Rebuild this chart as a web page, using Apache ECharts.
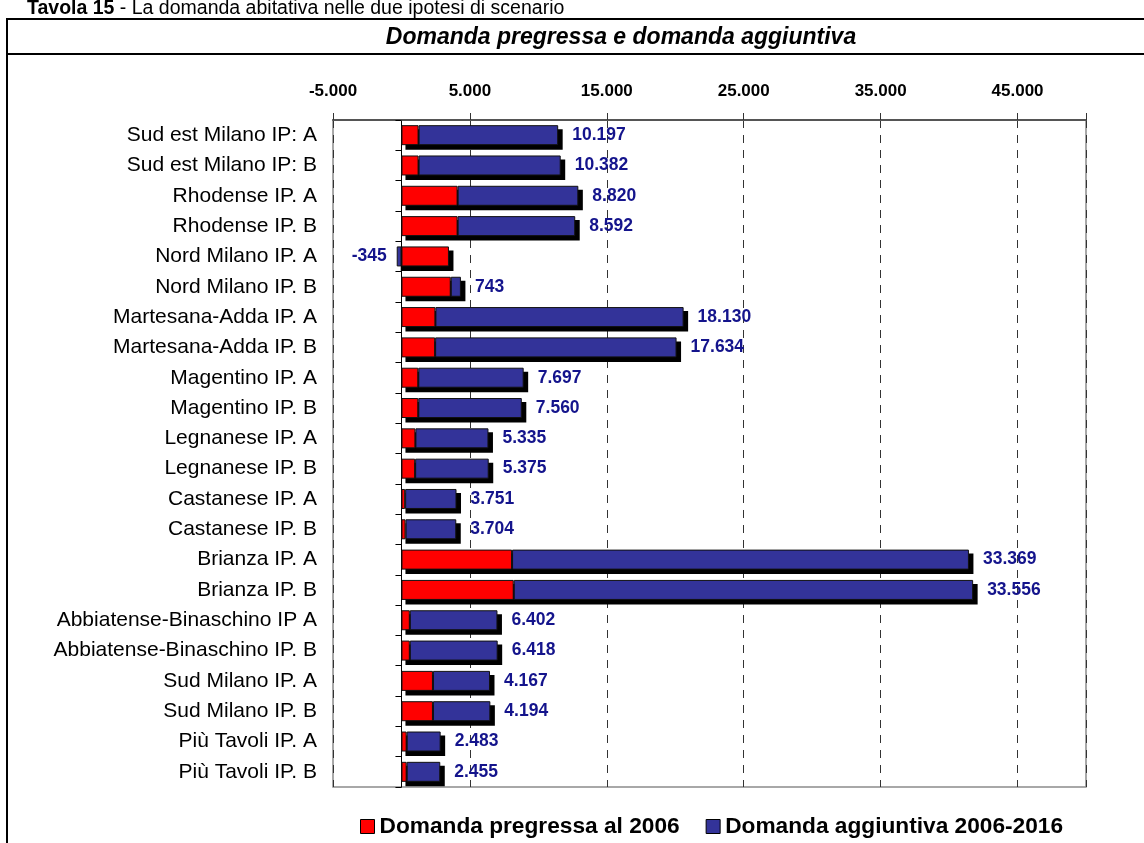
<!DOCTYPE html>
<html>
<head>
<meta charset="utf-8">
<script src="https://cdn.jsdelivr.net/npm/echarts@6/dist/echarts.min.js"></script>
<style>
html,body{margin:0;padding:0;background:#fff;}
#chart{width:1144px;height:843px;}
</style>
</head>
<body>
<div id="chart"></div>
<script>
const categories = ['Sud est Milano IP: A','Sud est Milano IP: B','Rhodense IP. A','Rhodense IP. B','Nord Milano IP. A','Nord Milano IP. B','Martesana-Adda IP. A','Martesana-Adda IP. B','Magentino IP. A','Magentino IP. B','Legnanese IP. A','Legnanese IP. B','Castanese IP. A','Castanese IP. B','Brianza IP. A','Brianza IP. B','Abbiatense-Binaschino IP A','Abbiatense-Binaschino IP. B','Sud Milano IP. A','Sud Milano IP. B','Più Tavoli IP. A','Più Tavoli IP. B'];
const pregressa = [1250,1250,4100,4100,3470,3600,2480,2460,1230,1230,1020,1000,270,300,8080,8200,610,610,2300,2300,380,380];
const aggiuntiva = [10197,10382,8820,8592,-345,743,18130,17634,7697,7560,5335,5375,3751,3704,33369,33556,6402,6418,4167,4194,2483,2455];
const seriesNames = ['Domanda pregressa al 2006','Domanda aggiuntiva 2006-2016'];
const axisMin = -5000, axisMax = 50000, axisStep = 10000;

function fmt(v){
  const neg = v < 0; let s = String(Math.abs(Math.round(v)));
  s = s.replace(/\B(?=(\d{3})+(?!\d))/g, '.');
  return (neg ? '-' : '') + s;
}
const FONT = 'Liberation Sans, Arial, sans-serif';
const BAR_H = 20;
const chart = echarts.init(document.getElementById('chart'), null, {renderer:'canvas'});
const barStyle = (c) => ({color:c, borderColor:'#111', borderWidth:1});
// shadow extent of each stacked bar: [category index, start, end]
const shadowData = categories.map((c, i) => [i, Math.min(0, aggiuntiva[i]), pregressa[i] + Math.max(0, aggiuntiva[i])]);
chart.setOption({
  backgroundColor:'#fff',
  animation:false,
  graphic:[
    {type:'rect', shape:{x:7,y:19,width:1300,height:1000}, style:{fill:'none',stroke:'#000',lineWidth:2}, silent:true},
    {type:'line', shape:{x1:7,y1:54,x2:1144,y2:54}, style:{stroke:'#000',lineWidth:2}, silent:true},
    {type:'text', left:27, top:-1, style:{text:'{b|Tavola 15} - La domanda abitativa nelle due ipotesi di scenario', font:'19.5px '+FONT, fill:'#000',
      rich:{b:{fontWeight:'bold', fontSize:19.5, fontFamily:FONT, fill:'#000'}}}, silent:true},
    {type:'text', x:621, y:38, style:{text:'Domanda pregressa e domanda aggiuntiva', font:'italic bold 23px '+FONT, fill:'#000', textAlign:'center', textVerticalAlign:'middle'}, silent:true}
  ],
  legend:{
    data:seriesNames, left:355, top:810, orient:'horizontal',
    icon:'rect', itemWidth:14, itemHeight:14, itemGap:26,
    itemStyle:{borderColor:'#000', borderWidth:1},
    textStyle:{fontFamily:FONT, fontWeight:'bold', fontSize:22.7, color:'#000'}
  },
  grid:{left:333, right:58, top:120, bottom:56, containLabel:false, outerBoundsMode:'none', show:true, borderColor:'#8c8c8c', borderWidth:1.5, backgroundColor:'transparent'},
  xAxis:{
    type:'value', position:'top', min:axisMin, max:axisMax, interval:axisStep,
    axisLine:{show:true, onZero:false, lineStyle:{color:'#555', width:2}},
    axisTick:{show:true, length:7, lineStyle:{color:'#333', width:1}},
    axisLabel:{margin:20, formatter:(v)=> v>=axisMax ? '' : fmt(v), fontFamily:FONT, fontWeight:'bold', fontSize:17, color:'#000'},
    splitLine:{show:true, lineStyle:{color:'#333', width:1, type:[8,7]}}
  },
  yAxis:[
    {type:'category', data:categories, inverse:true,
     axisLine:{show:false, onZero:false}, axisTick:{show:false},
     axisLabel:{margin:16, fontFamily:FONT, fontSize:21, color:'#000'}, splitLine:{show:false}},
    {type:'category', data:categories, inverse:true, position:'left',
     axisLine:{show:true, onZero:true, lineStyle:{color:'#000', width:1}},
     axisTick:{show:true, length:6, lineStyle:{color:'#000'}},
     axisLabel:{show:false}, splitLine:{show:false}}
  ],
  series:[
    {type:'custom', name:'shadow', z:1, silent:true, xAxisIndex:0, yAxisIndex:0,
     encode:{x:[1,2], y:0},
     renderItem:function(params, api){
       const cat = api.value(0);
       const p0 = api.coord([api.value(1), cat]);
       const p1 = api.coord([api.value(2), cat]);
       return {type:'rect', shape:{x:p0[0]+4, y:p0[1]-BAR_H/2+4, width:p1[0]-p0[0]+0.5, height:BAR_H+0.5}, style:{fill:'#000'}};
     },
     data:shadowData},
    {name:seriesNames[0], type:'bar', stack:'tot', yAxisIndex:0, barWidth:BAR_H, z:2,
     itemStyle:barStyle('#ff0000'), data:pregressa},
    {name:seriesNames[1], type:'bar', stack:'tot', yAxisIndex:0, barWidth:BAR_H, z:2,
     itemStyle:barStyle('#333399'),
     label:{show:true, position:'right', distance:14, formatter:(p)=>fmt(p.value), fontFamily:FONT, fontWeight:'bold', fontSize:17.5, color:'#14148c'},
     data:aggiuntiva.map(v => v < 0 ? {value:v, label:{position:'left', distance:10}} : v)}
  ]
});
</script>
</body>
</html>
